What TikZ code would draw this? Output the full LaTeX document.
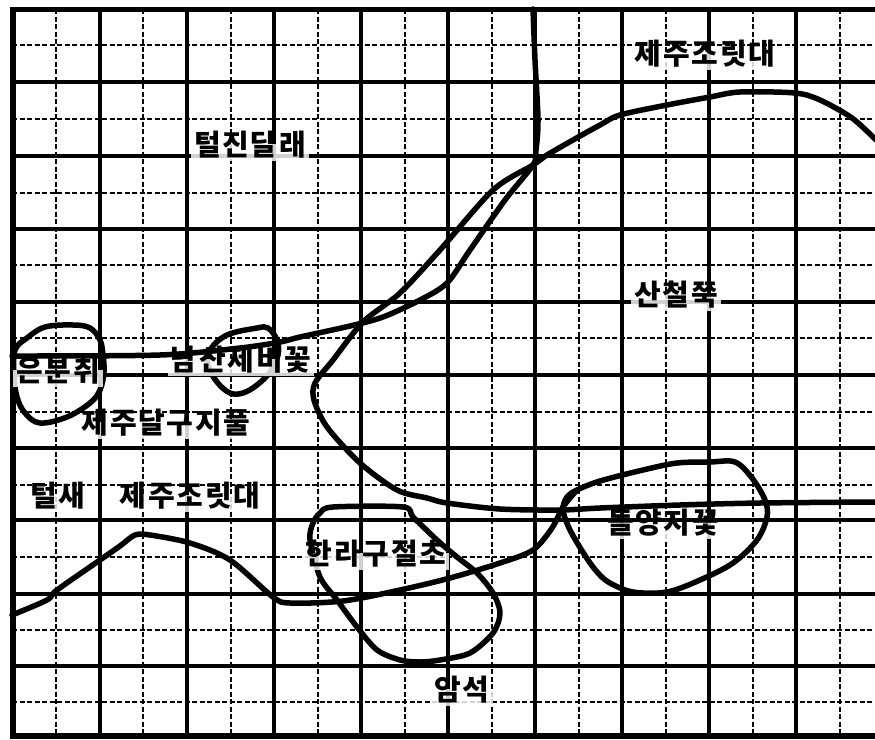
\documentclass[tikz,border=0pt]{standalone}
\usepackage{fontspec}
\newfontfamily\kr{Noto Sans CJK KR}[LetterSpace=6]
\tikzset{
  gsolid/.style={line width=3.2pt},
  gdash/.style={line width=2.5pt, dash pattern=on 5pt off 2.5pt},
  border/.style={line width=5.5pt},
  curve/.style={line width=5.5pt, line join=round, line cap=round},
  lbl/.style={fill=white, fill opacity=0.82, text opacity=1, inner xsep=3pt, inner ysep=4pt,
     font=\kr\bfseries\fontsize{29}{29}\selectfont, text height=0.83em, text depth=0.07em, anchor=center}
}
\begin{document}
\begin{tikzpicture}[x=1pt,y=-1pt]
\fill[white] (0,0) rectangle (875,739);
\useasboundingbox (0,0) rectangle (875,739);
% dashed grid
\foreach \x in {56,143,231,318,405,492,579,666,753,840}
  \draw[gdash] (\x,9) -- (\x,736);
\foreach \y in {45,119,193,265,338,412,485,557,630,702}
  \draw[gdash] (12,\y) -- (875,\y);
% solid grid
\foreach \x in {100,187,274,361,448,535,622,709,796}
  \draw[gsolid] (\x,9) -- (\x,736);
\foreach \y in {82,156,229,302,375,448,520,594,666}
  \draw[gsolid] (12,\y) -- (875,\y);
% borders
\draw[border] (13,9.5) -- (875,9.5);
\draw[border] (13,736) -- (875,736);
\draw[line width=6pt] (13,7) -- (13,739);
% curve A
\draw[curve] plot[smooth, tension=0.5] coordinates {(533,9) (535,60) (538,120) (536,150) (533,165) (505,200) (470,250) (447,283) (420,300) (383,317) (350,326) (300,337) (280,342) (240,348) (160,355) (12,356)};
% curve B
\draw[curve] plot[smooth, tension=0.5] coordinates {(876,140) (852,118) (820,100) (795,93) (740,92) (710,97) (667,105) (620,115) (600,125) (573,140) (547,155) (533,165) (493,190) (440,250) (400,293) (363,322) (333,360) (315,383) (314,400) (327,427) (360,463) (397,490) (427,498) (447,503) (500,509) (560,510) (600,508) (680,505) (760,503) (876,502)};
% curve E
\draw[curve] plot[smooth, tension=0.5] coordinates {(12,615) (47,600) (57,590) (100,560) (120,546) (135,535) (150,535) (190,543) (230,560) (273,597) (290,603) (343,601) (400,590) (450,578) (500,563) (533,550) (552,528) (563,507) (577,490)};
% loop C
\draw[curve] plot[smooth cycle, tension=0.6] coordinates {(15,350) (27,338) (45,327) (73,325) (90,328) (100,340) (103,355) (104,372) (100,390) (90,403) (67,417) (40,423) (25,413) (17,397) (14,375)};
% loop D
\draw[curve] plot[smooth cycle, tension=0.6] coordinates {(210,350) (227,335) (257,328) (268,328) (277,340) (278,355) (270,372) (257,385) (243,393) (230,393) (217,382) (208,365)};
% loop F
\draw[curve] plot[smooth cycle, tension=0.5] coordinates {(310,540) (313,523) (320,513) (333,507) (403,507) (413,517) (437,540) (457,557) (477,573) (493,593) (500,613) (493,633) (470,653) (440,660) (420,662) (400,660) (377,650) (357,627) (337,600) (320,577)};
% loop G
\draw[curve] plot[smooth cycle, tension=0.55] coordinates {(577,490) (600,481) (643,470) (677,463) (710,462) (735,462) (752,478) (765,500) (767,517) (757,540) (733,563) (700,580) (667,592) (633,592) (610,583) (598,573) (586,557) (570,530) (563,510) (567,497)};
% labels
\node[lbl] (l1) at (250,152) {털진달래};
\node[lbl] (l2) at (705,61) {제주조릿대};
\node[lbl] (l3) at (676,302) {산철쭉};
\node[lbl] (l4) at (58,378) {은분취};
\node[lbl] (l5) at (241,367) {남산제비꽃};
\node[lbl] (l6) at (166,430) {제주달구지풀};
\node[lbl] (l7) at (58,503) {털새};
\node[lbl] (l8) at (190,503) {제주조릿대};
\node[lbl] (l9) at (376,561) {한라구절초};
\node[lbl] (l10) at (462,697) {암석};
\node[lbl] (l11) at (663,530) {돌양지꽃};
\end{tikzpicture}
\end{document}
